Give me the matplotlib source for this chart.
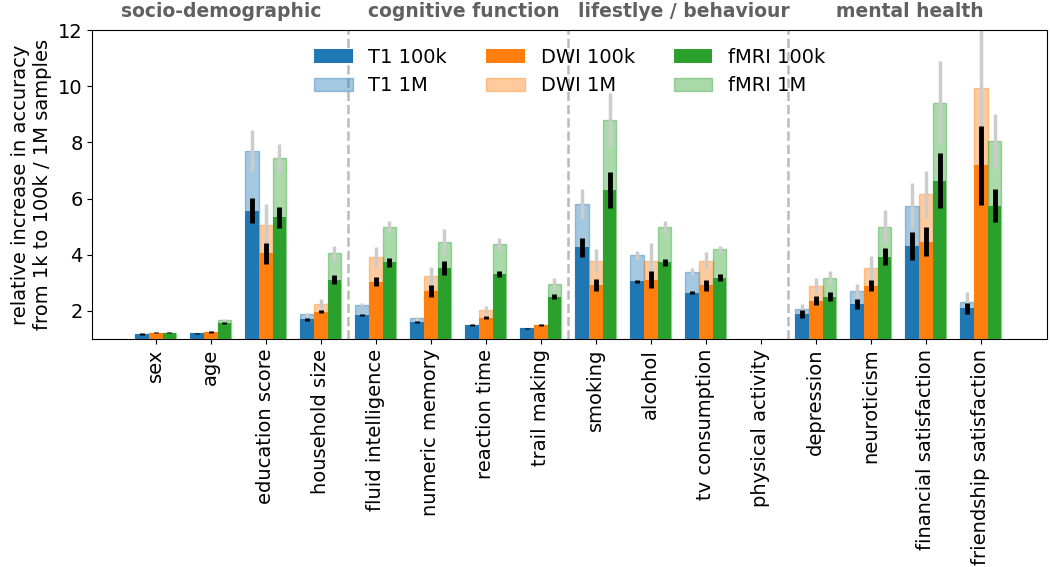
import numpy as np
import matplotlib
matplotlib.use('Agg')
import matplotlib.pyplot as plt

plt.rcParams['font.size'] = 14

# --- data ---
categories = ['sex', 'age', 'education score', 'household size',
              'fluid intelligence', 'numeric memory', 'reaction time', 'trail making',
              'smoking', 'alcohol', 'tv consumption', 'physical activity',
              'depression', 'neuroticism', 'financial satisfaction', 'friendship satisfaction']

nan = np.nan
t1_100k = [1.18, 1.21, 5.57, 1.70, 1.86, 1.62, 1.50, 1.38, 4.26, 3.06, 2.65, nan, 1.89, 2.25, 4.32, 2.09]
t1_100k_err = [0.02, 0.02, 0.45, 0.05, 0.05, 0.04, 0.03, 0.03, 0.35, 0.06, 0.06, nan, 0.13, 0.17, 0.50, 0.20]
t1_1m = [1.18, 1.21, 7.70, 1.88, 2.23, 1.74, 1.50, 1.38, 5.81, 3.99, 3.40, nan, 2.06, 2.71, 5.75, 2.33]
t1_1m_err = [0.02, 0.02, 0.73, 0.05, 0.05, 0.05, 0.05, 0.03, 0.53, 0.15, 0.12, nan, 0.20, 0.25, 0.82, 0.35]

dwi_100k = [1.23, 1.25, 4.05, 1.98, 3.04, 2.71, 1.76, 1.50, 2.92, 3.12, 2.92, nan, 2.37, 2.90, 4.47, 7.19]
dwi_100k_err = [0.02, 0.02, 0.37, 0.05, 0.16, 0.20, 0.06, 0.03, 0.22, 0.30, 0.20, nan, 0.17, 0.20, 0.52, 1.40]
dwi_1m = [1.23, 1.25, 5.06, 2.24, 3.91, 3.25, 2.04, 1.50, 3.79, 3.79, 3.79, nan, 2.90, 3.52, 6.15, 9.95]
dwi_1m_err = [0.02, 0.02, 0.75, 0.20, 0.35, 0.33, 0.14, 0.03, 0.40, 0.62, 0.31, nan, 0.28, 0.44, 0.85, 2.10]

fmri_100k = [1.23, 1.58, 5.33, 3.12, 3.73, 3.52, 3.32, 2.51, 6.31, 3.73, 3.19, nan, 2.51, 3.93, 6.64, 5.75]
fmri_100k_err = [0.03, 0.04, 0.38, 0.16, 0.15, 0.25, 0.12, 0.10, 0.65, 0.12, 0.14, nan, 0.15, 0.30, 0.97, 0.60]
fmri_1m = [1.23, 1.68, 7.43, 4.05, 5.00, 4.47, 4.38, 2.96, 8.80, 5.00, 4.19, nan, 3.19, 5.00, 9.41, 8.05]
fmri_1m_err = [0.03, 0.03, 0.53, 0.27, 0.20, 0.46, 0.20, 0.22, 0.95, 0.21, 0.12, nan, 0.24, 0.59, 1.50, 0.95]

modalities = ['T1', 'DWI', 'fMRI']
colors = ['tab:blue', 'tab:orange', 'tab:green']
vals_100k = [t1_100k, dwi_100k, fmri_100k]
errs_100k = [t1_100k_err, dwi_100k_err, fmri_100k_err]
vals_1m = [t1_1m, dwi_1m, fmri_1m]
errs_1m = [t1_1m_err, dwi_1m_err, fmri_1m_err]

groups = ['socio-demographic', 'cognitive function', 'lifestlye / behaviour', 'mental health']
group_label_x = [1.2, 5.6, 9.6, 13.7]
group_breaks = [3.5, 7.5, 11.5]

fig, ax = plt.subplots(figsize=(10.5, 5.67), dpi=100)
fig.subplots_adjust(left=0.088, right=0.997, top=0.947, bottom=0.402)

x = np.arange(len(categories))
w = 0.25
handles = {}
for i, (mod, c) in enumerate(zip(modalities, colors)):
    pos = x + (i - 1) * w
    # 1M bars behind, light
    b1 = ax.bar(pos, vals_1m[i], w, color=c, alpha=0.4, edgecolor=c, linewidth=1, zorder=1)
    ax.errorbar(pos, vals_1m[i], yerr=errs_1m[i], fmt='none', ecolor='#cccccc',
                elinewidth=2.5, zorder=2)
    # 100k bars in front
    b2 = ax.bar(pos, vals_100k[i], w, color=c, linewidth=0, zorder=3)
    ax.errorbar(pos, vals_100k[i], yerr=errs_100k[i], fmt='none', ecolor='black',
                elinewidth=3.5, zorder=4)
    handles[mod + ' 100k'] = b2
    handles[mod + ' 1M'] = b1

for xb in group_breaks:
    ax.axvline(xb, color='#bbbbbb', linestyle='--', linewidth=1.8, zorder=0)

for gx, g in zip(group_label_x, groups):
    ax.text(gx, 1.06, g, transform=ax.get_xaxis_transform(), ha='center', va='center',
            fontsize=13.5, fontweight='bold', color='#606060')

order = ['T1 100k', 'T1 1M', 'DWI 100k', 'DWI 1M', 'fMRI 100k', 'fMRI 1M']
ax.legend([handles[k] for k in order], order, ncol=3, loc='upper center', frameon=False)

ax.set_xlim(-1.15, 16.2)
ax.set_ylim(1, 12)
ax.set_yticks([2, 4, 6, 8, 10, 12])
ax.set_xticks(x)
ax.set_xticklabels(categories, rotation=90)
ax.set_ylabel('relative increase in accuracy\nfrom 1k to 100k / 1M samples')

fig.savefig('out.png', dpi=100)
